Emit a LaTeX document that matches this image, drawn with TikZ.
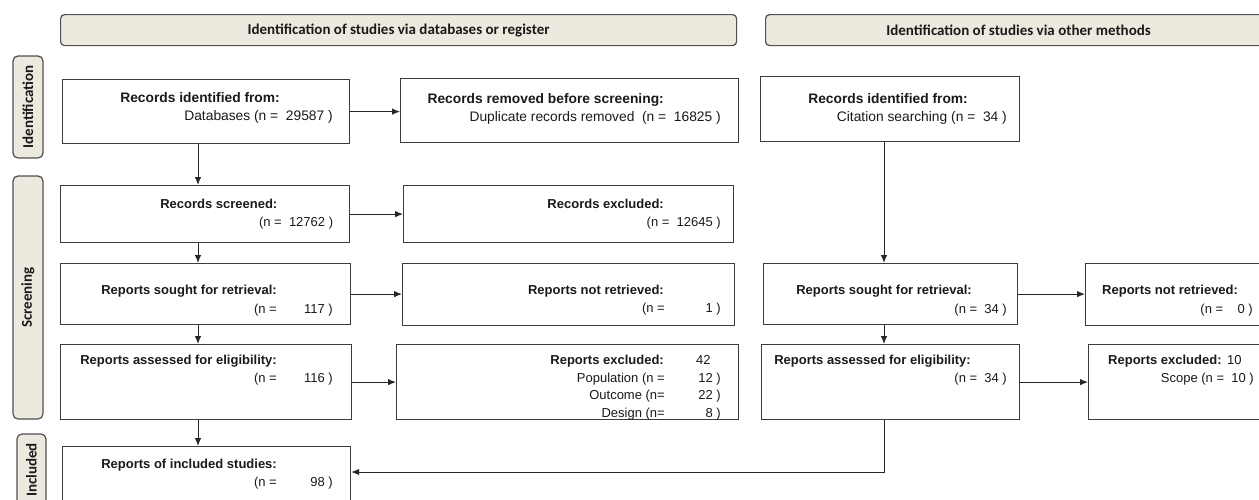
\documentclass[tikz,border=0pt]{standalone}
\usepackage{fontspec}
\setmainfont{Liberation Sans}
\newfontfamily\bannerfont{Carlito}
\usetikzlibrary{arrows.meta}
\definecolor{bannerfill}{HTML}{ECE9DE}
\definecolor{bannerline}{HTML}{505050}
\definecolor{boxline}{HTML}{3C3C3C}
\definecolor{arrowcol}{HTML}{262626}
\definecolor{txt}{HTML}{1A1A1A}
\tikzset{
  banner/.style={draw=bannerline, fill=bannerfill, rounded corners=4pt, line width=1.2pt,
    anchor=north west, inner sep=0pt, text=txt, font=\bannerfont\bfseries\fontsize{15}{18}\selectfont},
  side/.style={draw=bannerline, fill=bannerfill, rounded corners=5pt, line width=1.2pt,
    rotate=90, inner sep=0pt, text=txt, font=\bannerfont\bfseries\fontsize{15}{18}\selectfont},
  box/.style={draw=boxline, fill=white, line width=1.2pt, anchor=north west, inner sep=0pt},
  ttl/.style={anchor=base east, inner sep=0pt, text=txt, font=\bfseries\fontsize{13}{15}\selectfont},
  ttlbig/.style={ttl, font=\bfseries\fontsize{13.8}{16}\selectfont},
  num/.style={anchor=base east, inner sep=0pt, text=txt, font=\fontsize{13}{15}\selectfont},
  numbig/.style={num, font=\fontsize{13.8}{16}\selectfont},
  arr/.style={draw=arrowcol, line width=1pt, -{Latex[length=8pt,width=6.5pt]}}
}
\begin{document}
\begin{tikzpicture}[x=1pt,y=-1pt]
\useasboundingbox (0,0) rectangle (1259,499);
\clip (0,0) rectangle (1259,499);
\fill[white] (0,0) rectangle (1259,499);

% banners
\node[banner, minimum width=676pt, minimum height=31pt] (ban1) at (60,14) {Identification of studies via databases or register};
\node[banner, minimum width=506pt, minimum height=31pt] (ban2) at (765,14) {Identification of studies via other methods};

% side labels
\node[side, minimum width=102pt, minimum height=30pt] (sid1) at (28,107) {Identification};
\node[side, minimum width=243pt, minimum height=30pt] (sid2) at (28,297.5) {Screening};
\node[side, minimum width=72pt, minimum height=29pt] (sid3) at (31.5,470) {Included};

% boxes
\node[box, minimum width=287pt, minimum height=64pt] (A) at (62,79) {};
\node[box, minimum width=338pt, minimum height=64pt] (B) at (400,78) {};
\node[box, minimum width=289pt, minimum height=57pt] (C) at (60,185) {};
\node[box, minimum width=330pt, minimum height=57pt] (D) at (403,185) {};
\node[box, minimum width=290pt, minimum height=61pt] (E) at (60,263) {};
\node[box, minimum width=332pt, minimum height=62pt] (F) at (402,263) {};
\node[box, minimum width=291pt, minimum height=75pt] (G) at (60,344) {};
\node[box, minimum width=342pt, minimum height=75pt] (H) at (396,344) {};
\node[box, minimum width=288pt, minimum height=56pt] (I) at (62,446) {};
\node[box, minimum width=259pt, minimum height=65pt] (J) at (760,76) {};
\node[box, minimum width=254pt, minimum height=61pt] (K) at (763,263) {};
\node[box, minimum width=220pt, minimum height=62pt] (L) at (1085,263) {};
\node[box, minimum width=258pt, minimum height=75pt] (M) at (761,344) {};
\node[box, minimum width=220pt, minimum height=75pt] (N) at (1088,344) {};

% texts
\node[ttlbig] (a1) at (280,102.5) {Records identified from:};
\node[numbig] (a2) at (333,120.5) {Databases (n =~~29587~)};
\node[ttlbig] (b1) at (664,103) {Records removed before screening:};
\node[numbig] (b2) at (721,121) {Duplicate records removed~~(n =~~16825~)};
\node[ttl] (c1) at (277.5,208.3) {Records screened:};
\node[num] (c2) at (333.3,226) {(n =~~12762~)};
\node[ttl] (d1) at (664,208) {Records excluded:};
\node[num] (d2) at (721,226) {(n =~~12645~)};
\node[ttl] (e1) at (277,294.5) {Reports sought for retrieval:};
\node[num] (e2) at (277,313) {(n =};
\node[num] (e3) at (333,313) {117~)};
\node[ttl] (f1) at (664,294.5) {Reports not retrieved:};
\node[num] (f2) at (665,312.5) {(n =};
\node[num] (f3) at (721,312.5) {1~)};
\node[ttl] (g1) at (277,364) {Reports assessed for eligibility:};
\node[num] (g2) at (277,382) {(n =};
\node[num] (g3) at (333,382) {116~)};
\node[ttl] (h1) at (664,364) {Reports excluded:};
\node[num, anchor=base west] (h2) at (696,364) {42};
\node[num] (h3) at (665,382) {Population (n =};
\node[num] (h4) at (721,382) {12~)};
\node[num] (h5) at (665,399.5) {Outcome (n=};
\node[num] (h6) at (721,399.5) {22~)};
\node[num] (h7) at (665,417) {Design (n=};
\node[num] (h8) at (721,417) {8~)};
\node[ttl] (i1) at (277,468) {Reports of included studies:};
\node[num] (i2) at (277,486) {(n =};
\node[num] (i3) at (333,486) {98~)};
\node[ttlbig] (j1) at (968,103) {Records identified from:};
\node[numbig] (j2) at (1007,121) {Citation searching (n =~~34~)};
\node[ttl] (k1) at (972,294.5) {Reports sought for retrieval:};
\node[num] (k2) at (1007,313) {(n =~~34~)};
\node[ttl, anchor=base west] (l1) at (1102,294.5) {Reports not retrieved:};
\node[num] (l2) at (1253,313) {(n =~~~~0~)};
\node[ttl] (m1) at (971,364) {Reports assessed for eligibility:};
\node[num] (m2) at (1007,382) {(n =~~34~)};
\node[ttl, anchor=base west] (n1) at (1108,364) {Reports excluded:};
\node[num, anchor=base west] (n2) at (1227,364) {10};
\node[num] (n3) at (1254,382) {Scope (n =~~10~)};

% connectors
\coordinate (lx) at (198,0);
\coordinate (rx) at (884,0);
\coordinate (bend) at (884,472);
\draw[arr] (A.east) -- (A.east -| B.west);
\draw[arr] (C.east) -- (C.east -| D.west);
\draw[arr] (E.east) -- (E.east -| F.west);
\draw[arr] (G.east) -- (G.east -| H.west);
\draw[arr] (K.east) -- (K.east -| L.west);
\draw[arr] (M.east) -- (M.east -| N.west);
\draw[arr] (A.south -| lx) -- (C.north -| lx);
\draw[arr] (C.south -| lx) -- (E.north -| lx);
\draw[arr] (E.south -| lx) -- (G.north -| lx);
\draw[arr] (G.south -| lx) -- (I.north -| lx);
\draw[arr] (J.south -| rx) -- (K.north -| rx);
\draw[arr] (K.south -| rx) -- (M.north -| rx);
\draw[arr] (M.south -| rx) |- (I.east |- bend);
\end{tikzpicture}
\end{document}
